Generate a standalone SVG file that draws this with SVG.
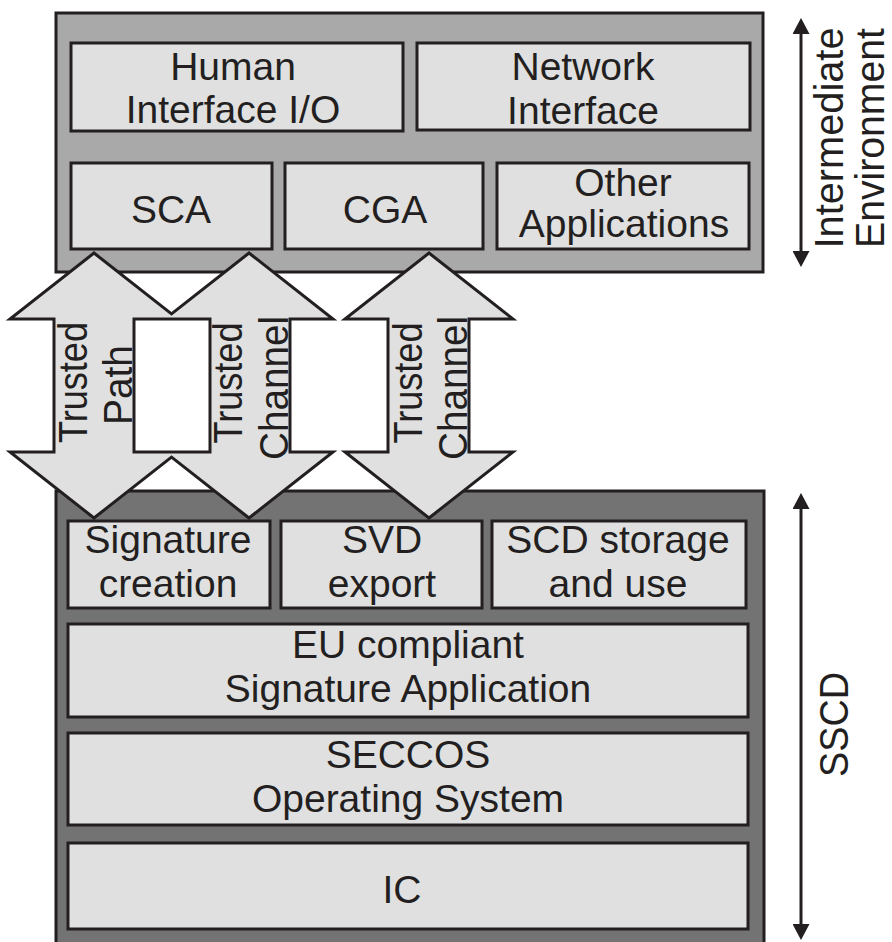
<svg xmlns="http://www.w3.org/2000/svg" width="892" height="942" viewBox="0 0 892 942">
  <defs>
    <style>
      .outer-top { fill: #a9a9a9; stroke: #231f20; stroke-width: 3; }
      .outer-bot { fill: #737373; stroke: #231f20; stroke-width: 3; }
      .box { fill: #e0e0e0; stroke: #231f20; stroke-width: 3; }
      .arrow { fill: #e0e0e0; stroke: #231f20; stroke-width: 3; stroke-linejoin: miter; fill-rule: evenodd; }
      .dim { stroke: #231f20; stroke-width: 3; fill: none; }
      text { font-family: "Liberation Sans", Arial, sans-serif; font-size: 39px; fill: #231f20; text-anchor: middle; }
      .v { font-size: 40px; }
    </style>
    <marker id="head" viewBox="0 0 16 17" refX="6" refY="8.5" markerWidth="16" markerHeight="17" markerUnits="userSpaceOnUse" orient="auto-start-reverse">
      <path d="M0,0 L16,8.5 L0,17 z" fill="#231f20"/>
    </marker>
  </defs>

  <!-- Intermediate environment -->
  <g id="intermediate-environment">
    <rect class="outer-top" x="56" y="13" width="707" height="259"/>
  </g>
  <g id="human-interface">
    <rect class="box" x="71" y="43" width="332" height="88"/>
    <text x="233" y="80">Human</text>
    <text x="233" y="123">Interface I/O</text>
  </g>
  <g id="network-interface">
    <rect class="box" x="417" y="43" width="333" height="87"/>
    <text x="583" y="80">Network</text>
    <text x="583" y="124">Interface</text>
  </g>
  <g id="sca">
    <rect class="box" x="71" y="163" width="201" height="86"/>
    <text x="171" y="223">SCA</text>
  </g>
  <g id="cga">
    <rect class="box" x="285" y="163" width="198" height="86"/>
    <text x="385" y="223">CGA</text>
  </g>
  <g id="other-applications">
    <rect class="box" x="497" y="163" width="252" height="86"/>
    <text x="623" y="196">Other</text>
    <text x="624" y="237">Applications</text>
  </g>

  <!-- SSCD -->
  <g id="sscd">
    <rect class="outer-bot" x="56" y="491" width="708" height="460"/>
  </g>
  <g id="signature-creation">
    <rect class="box" x="68" y="521" width="202" height="87"/>
    <text x="168" y="553">Signature</text>
    <text x="168" y="597">creation</text>
  </g>
  <g id="svd-export">
    <rect class="box" x="281" y="521" width="201" height="87"/>
    <text x="382" y="553">SVD</text>
    <text x="382" y="597">export</text>
  </g>
  <g id="scd-storage">
    <rect class="box" x="492" y="521" width="254" height="87"/>
    <text x="618" y="553">SCD storage</text>
    <text x="618" y="597">and use</text>
  </g>
  <g id="eu-compliant">
    <rect class="box" x="68" y="624" width="680" height="93"/>
    <text x="408" y="658">EU compliant</text>
    <text x="408" y="702">Signature Application</text>
  </g>
  <g id="seccos">
    <rect class="box" x="68" y="733" width="680" height="92"/>
    <text x="408" y="768">SECCOS</text>
    <text x="408" y="812">Operating System</text>
  </g>
  <g id="ic">
    <rect class="box" x="68" y="843" width="680" height="86"/>
    <text x="402" y="903">IC</text>
  </g>

  <!-- Connectors: trusted path / channels -->
  <g id="connectors">
    <path class="arrow" d="M94,253 L171.5,313.9 L249,253 L333,319 L290,319 L290,452 L333,452 L249,518 L171.5,457.1 L94,518 L10,452 L54,452 L54,319 L10,319 Z M134,319 L210,319 L210,452 L134,452 Z"/>
    <path class="arrow" d="M429,253 L513,319 L469,319 L469,452 L513,452 L429,518 L345,452 L388,452 L388,319 L345,319 Z"/>
    <g class="v">
      <text class="v" transform="translate(87,382.5) rotate(-90)" textLength="121" lengthAdjust="spacingAndGlyphs">Trusted</text>
      <text class="v" transform="translate(132,385) rotate(-90)" textLength="80" lengthAdjust="spacingAndGlyphs">Path</text>
      <text class="v" transform="translate(242,383) rotate(-90)" textLength="121" lengthAdjust="spacingAndGlyphs">Trusted</text>
      <text class="v" transform="translate(288,388) rotate(-90)" textLength="144" lengthAdjust="spacingAndGlyphs">Channel</text>
      <text class="v" transform="translate(422,383) rotate(-90)" textLength="121" lengthAdjust="spacingAndGlyphs">Trusted</text>
      <text class="v" transform="translate(467,388) rotate(-90)" textLength="144" lengthAdjust="spacingAndGlyphs">Channel</text>
    </g>
  </g>

  <!-- Dimension arrows -->
  <g id="dimension-intermediate">
    <line class="dim" x1="801" y1="28" x2="801" y2="257" marker-start="url(#head)" marker-end="url(#head)"/>
    <text class="v" transform="translate(843,138) rotate(-90)" textLength="221" lengthAdjust="spacingAndGlyphs">Intermediate</text>
    <text class="v" transform="translate(884,138) rotate(-90)" textLength="220" lengthAdjust="spacingAndGlyphs">Environment</text>
  </g>
  <g id="dimension-sscd">
    <line class="dim" x1="801" y1="503" x2="801" y2="930" marker-start="url(#head)" marker-end="url(#head)"/>
    <text class="v" transform="translate(848,724.5) rotate(-90)" textLength="105" lengthAdjust="spacingAndGlyphs">SSCD</text>
  </g>
</svg>
